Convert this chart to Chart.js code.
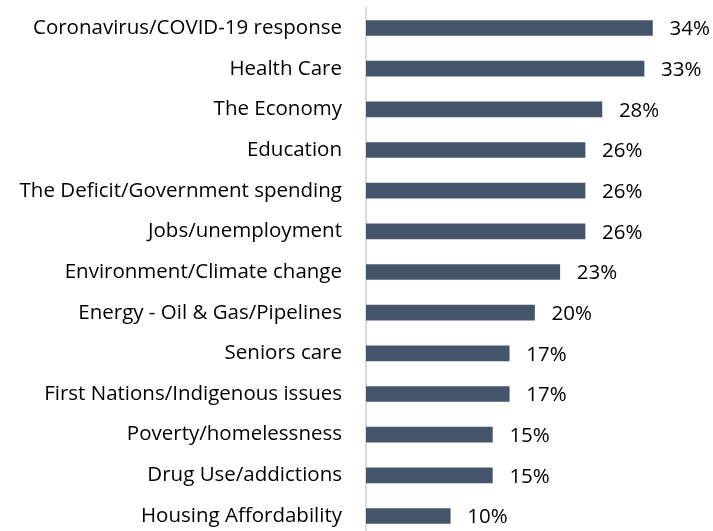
<!DOCTYPE html>
<html>
<head>
<meta charset="utf-8">
<script src="https://cdn.jsdelivr.net/npm/chart.js@4"></script>
<style>
  html, body { margin: 0; padding: 0; background: #fff; overflow: hidden; }
  #wrap { width: 713px; height: 544px; position: relative; }
</style>
</head>
<body>
<div id="wrap"><canvas id="chart"></canvas></div>
<script>
// categories and values
const categories = [
    'Coronavirus/COVID-19 response',
    'Health Care',
    'The Economy',
    'Education',
    'The Deficit/Government spending',
    'Jobs/unemployment',
    'Environment/Climate change',
    'Energy - Oil & Gas/Pipelines',
    'Seniors care',
    'First Nations/Indigenous issues',
    'Poverty/homelessness',
    'Drug Use/addictions',
    'Housing Affordability'
];
const values = [34, 33, 28, 26, 26, 26, 23, 20, 17, 17, 15, 15, 10];

const FONT = "'Open Sans', sans-serif";
const FONT_SIZE = 20.5;

// draws the "34%" style labels after each bar
const valueLabels = {
    id: 'valueLabels',
    afterDatasetsDraw(chart) {
        const ctx = chart.ctx;
        const meta = chart.getDatasetMeta(0);
        ctx.save();
        ctx.font = FONT_SIZE + 'px ' + FONT;
        ctx.fillStyle = '#000';
        ctx.textAlign = 'left';
        ctx.textBaseline = 'middle';
        meta.data.forEach((bar, i) => {
            ctx.fillText(values[i] + '%', bar.x + 17, bar.y + 1.5);
        });
        ctx.restore();
    }
};

new Chart(document.getElementById('chart'), {
    type: 'bar',
    data: {
        labels: categories,
        datasets: [{
            data: values,
            backgroundColor: '#44546A',
            barThickness: 15
        }]
    },
    options: {
        indexAxis: 'y',
        responsive: true,
        maintainAspectRatio: false,
        animation: false,
        layout: { padding: { top: 7.7, bottom: 7.7, left: 0, right: 10 } },
        plugins: { legend: { display: false }, tooltip: { enabled: false } },
        scales: {
            x: { display: false, min: 0, max: 40 },
            y: {
                grid: { display: false, tickLength: 24 },
                border: { display: true, color: '#D9D9D9', width: 2 },
                ticks: {
                    color: '#000',
                    font: { family: FONT, size: FONT_SIZE, lineHeight: 0.7 },
                    padding: 0
                },
                afterFit(scale) { scale.width = 366; }
            }
        }
    },
    plugins: [valueLabels]
});
</script>
</body>
</html>
